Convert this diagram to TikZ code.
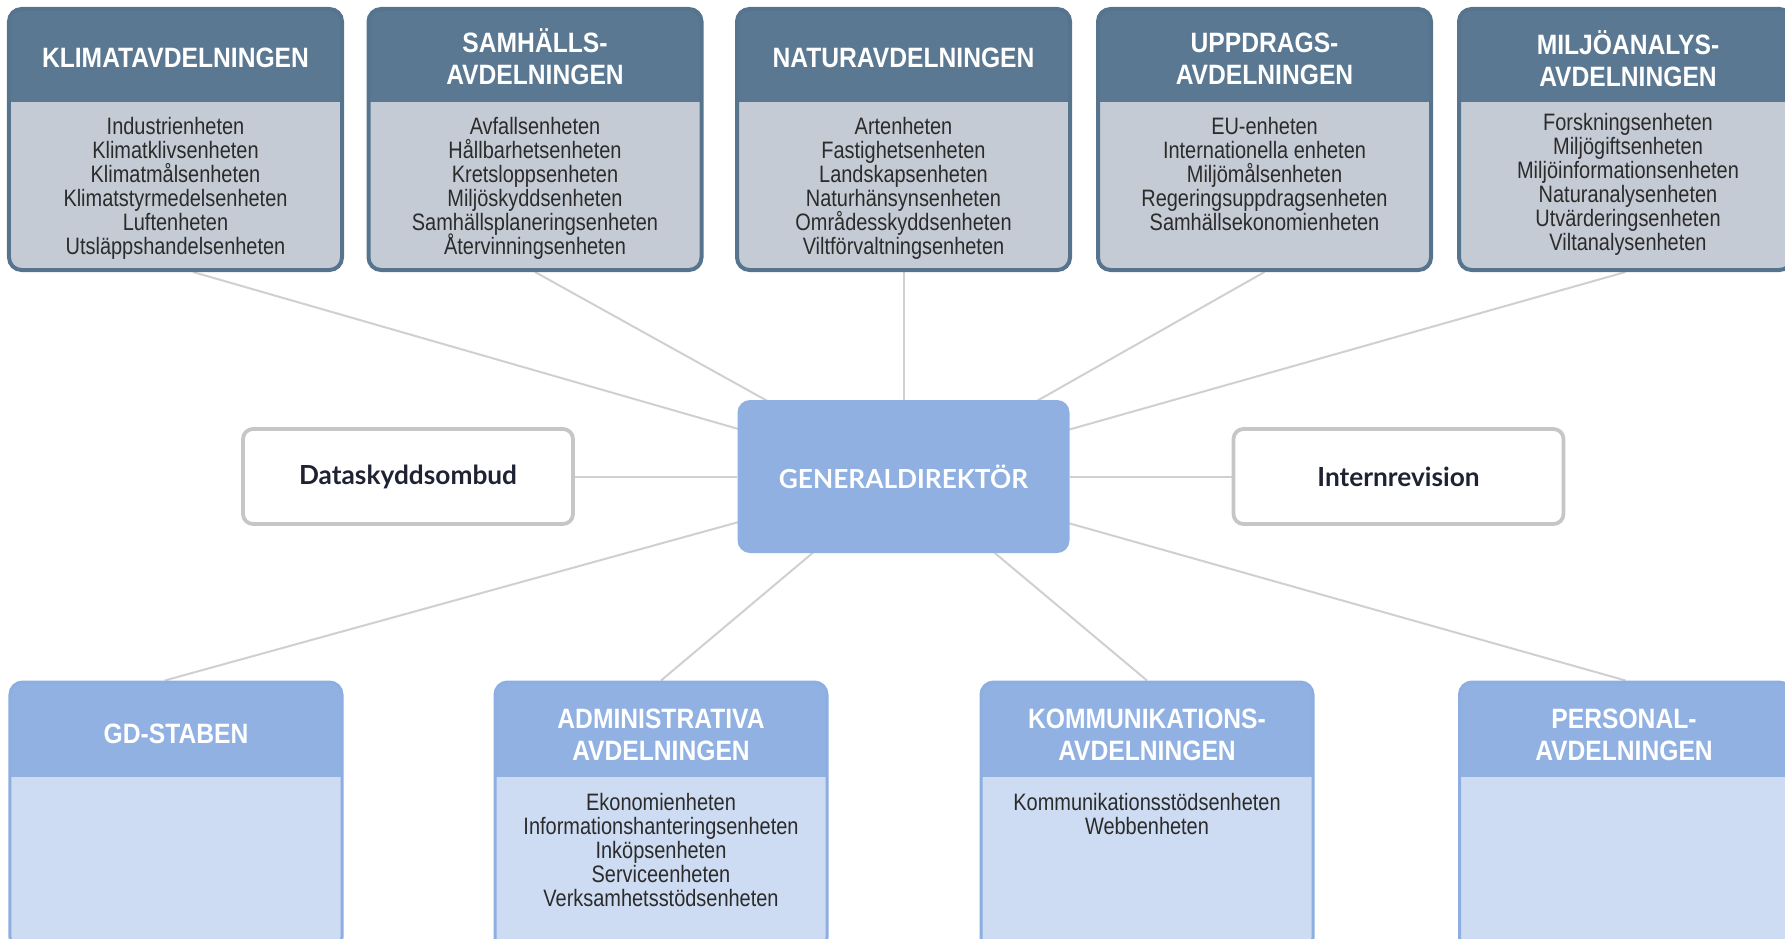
\documentclass[tikz,border=0pt]{standalone}
\usepackage{fontspec}
\setmainfont{Liberation Sans}
\newfontfamily\bodyfont[FakeStretch=0.84]{Liberation Sans}
\newfontfamily\headfont[FakeStretch=0.88]{Liberation Sans}
\newfontfamily\latofont{Lato}
\usetikzlibrary{backgrounds}
\definecolor{topheader}{HTML}{5A7891}
\definecolor{topbody}{HTML}{C5CBD4}
\definecolor{topborder}{HTML}{56748D}
\definecolor{botheader}{HTML}{90B1E2}
\definecolor{botbody}{HTML}{CDDCF2}
\definecolor{botborder}{HTML}{8DAEE0}
\definecolor{gdfill}{HTML}{8FB0E1}
\definecolor{sideborder}{HTML}{C6C6C6}
\definecolor{linecol}{HTML}{D0D0D0}
\definecolor{bodytext}{HTML}{2B2B2B}
\definecolor{sidetext}{HTML}{1E2233}
\tikzset{
  topbox/.style={rectangle, rounded corners=5pt, draw=topborder, line width=1.6pt,
    fill=topbody, minimum width=133.2pt, minimum height=104.4pt, inner sep=0pt,
    path picture={\fill[topheader, sharp corners] (path picture bounding box.north west) rectangle
      ([yshift=-37.2pt]path picture bounding box.north east);}},
  botbox/.style={rectangle, rounded corners=5pt, draw=botborder, line width=1.2pt,
    fill=botbody, minimum width=132.8pt, minimum height=107.2pt, inner sep=0pt,
    path picture={\fill[botheader, sharp corners] (path picture bounding box.north west) rectangle
      ([yshift=-38pt]path picture bounding box.north east);}},
  headtext/.style={inner sep=0pt, align=center, text=white,
    font={\headfont\bfseries\fontsize{11.2}{12.8}\selectfont\lineskiplimit=-20pt}},
  bodytxt/.style={inner sep=0pt, align=center, text=bodytext, anchor=north,
    font={\bodyfont\fontsize{9.5}{9.6}\selectfont\lineskiplimit=-20pt}},
  gdbox/.style={rectangle, rounded corners=5pt, fill=gdfill, minimum width=132.8pt,
    minimum height=61.2pt, text=white, font={\latofont\bfseries\fontsize{10.5}{12}\selectfont}},
  sidebox/.style={rectangle, rounded corners=4pt, draw=sideborder, line width=1.5pt,
    fill=white, minimum width=132pt, minimum height=38pt, text=sidetext,
    font={\latofont\bfseries\fontsize{10.5}{12}\selectfont}},
  conn/.style={draw=linecol, line width=0.8pt}
}
\begin{document}
\begin{tikzpicture}[x=0.4pt,y=-0.4pt]
\useasboundingbox (0,0) rectangle (1785,939);
\clip (0,0) rectangle (1785,939);

% top departments
\node[topbox] (klimat) at (175.5,139.5) {};
\node[headtext] (klimatH) at (175.5,58) {KLIMATAVDELNINGEN};
\node[bodytxt] (klimatB) at (175.5,117) {Industrienheten\\Klimatklivsenheten\\Klimatmålsenheten\\Klimatstyrmedelsenheten\\Luftenheten\\Utsläppshandelsenheten};

\node[topbox] (samh) at (535,139.5) {};
\node[headtext] (samhH) at (535,57) {SAMHÄLLS-\\AVDELNINGEN};
\node[bodytxt] (samhB) at (535,117) {Avfallsenheten\\Hållbarhetsenheten\\Kretsloppsenheten\\Miljöskyddsenheten\\Samhällsplaneringsenheten\\Återvinningsenheten};

\node[topbox] (natur) at (903.5,139.5) {};
\node[headtext] (naturH) at (903.5,58) {NATURAVDELNINGEN};
\node[bodytxt] (naturB) at (903.5,117) {Artenheten\\Fastighetsenheten\\Landskapsenheten\\Naturhänsynsenheten\\Områdesskyddsenheten\\Viltförvaltningsenheten};

\node[topbox] (uppdr) at (1264.5,139.5) {};
\node[headtext] (uppdrH) at (1264.5,59) {UPPDRAGS-\\AVDELNINGEN};
\node[bodytxt] (uppdrB) at (1264.5,117) {EU-enheten\\Internationella enheten\\Miljömålsenheten\\Regeringsuppdragsenheten\\Samhällsekonomienheten};

\node[topbox] (miljo) at (1625.5,139.5) {};
\node[headtext] (miljoH) at (1628,59) {MILJÖANALYS-\\AVDELNINGEN};
\node[bodytxt] (miljoB) at (1628,113) {Forskningsenheten\\Miljögiftsenheten\\Miljöinformationsenheten\\Naturanalysenheten\\Utvärderingsenheten\\Viltanalysenheten};

% centre row
\node[gdbox] (gd) at (903.5,476.5) {GENERALDIREKTÖR};
\node[sidebox] (dskydd) at (408,476.5) {Dataskyddsombud};
\node[sidebox] (intrev) at (1398.5,476.5) {Internrevision};

% bottom departments
\node[botbox] (gdst) at (176,816) {};
\node[headtext] (gdstH) at (176,734) {GD-STABEN};

\node[botbox] (admin) at (661,816) {};
\node[headtext] (adminH) at (661,734.5) {ADMINISTRATIVA\\AVDELNINGEN};
\node[bodytxt] (adminB) at (661,793) {Ekonomienheten\\Informationshanteringsenheten\\Inköpsenheten\\Serviceenheten\\Verksamhetsstödsenheten};

\node[botbox] (komm) at (1147,816) {};
\node[headtext] (kommH) at (1147,734.5) {KOMMUNIKATIONS-\\AVDELNINGEN};
\node[bodytxt] (kommB) at (1147,793) {Kommunikationsstödsenheten\\Webbenheten};

\node[botbox] (pers) at (1625.5,816) {};
\node[headtext] (persH) at (1624,734.5) {PERSONAL-\\AVDELNINGEN};

% connectors
\begin{scope}[on background layer]
\draw[conn] ([xshift=7pt]klimat.south) -- (gd.center);
\draw[conn] (samh.south) -- (gd.center);
\draw[conn] (natur.south) -- (gd.center);
\draw[conn] (uppdr.south) -- (gd.center);
\draw[conn] (miljo.south) -- (gd.center);
\draw[conn] (dskydd.east) -- (gd.west);
\draw[conn] (gd.east) -- (intrev.west);
\draw[conn] (gd.center) -- ([xshift=-4.5pt]gdst.north);
\draw[conn] (gd.center) -- (admin.north);
\draw[conn] (gd.center) -- (komm.north);
\draw[conn] (gd.center) -- (pers.north);
\end{scope}
\end{tikzpicture}
\end{document}
